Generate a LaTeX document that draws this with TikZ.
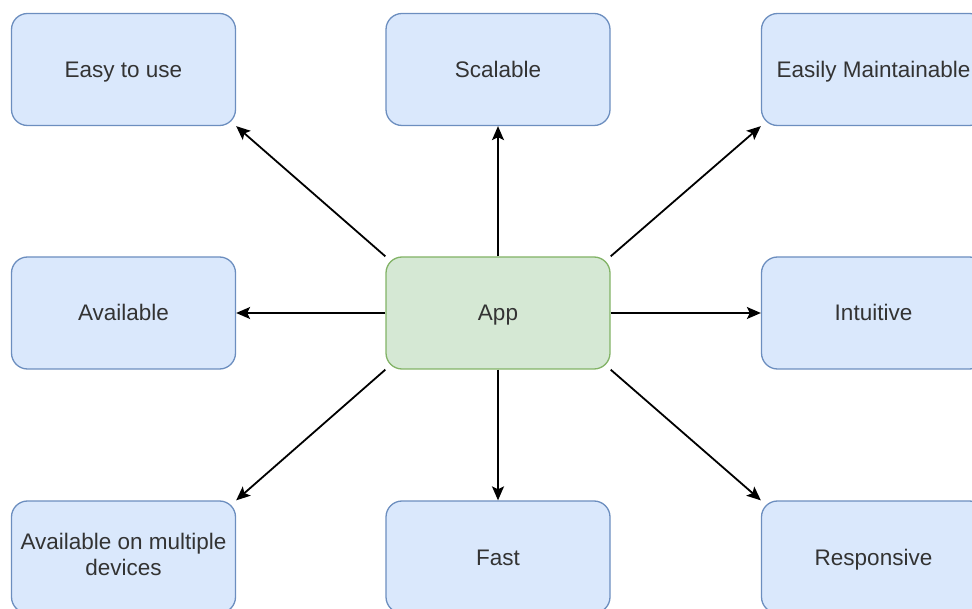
\documentclass[tikz,border=0pt]{standalone}
\usepackage{fontspec}
\setmainfont{Liberation Sans}
\usetikzlibrary{arrows.meta}
\definecolor{bluefill}{HTML}{DAE8FC}
\definecolor{blueline}{HTML}{6C8EBF}
\definecolor{greenfill}{HTML}{D5E8D4}
\definecolor{greenline}{HTML}{82B366}
\tikzset{
  card/.style={draw=blueline, fill=bluefill, line width=1.3pt, rounded corners=16pt,
    minimum width=224pt, minimum height=112pt, inner sep=0pt, align=center,
    font=\fontsize{22.5}{26}\selectfont, text=black!80,
    execute at begin node={\rule{0pt}{21pt}},
    execute at end node={\rule[-5pt]{0pt}{5pt}}},
  hub/.style={card, draw=greenline, fill=greenfill},
  link/.style={line width=1.8pt, -{Stealth[length=14pt,width=12pt,inset=3pt]}}
}
\begin{document}
\begin{tikzpicture}[x=1pt,y=-1pt]
  \useasboundingbox (0,0) rectangle (972,609);
  \clip (0,0) rectangle (972,609);
  % satellite boxes
  \node[card] (ease)  at (123.5,69.5)  {Easy to use};
  \node[card] (scale) at (498,69.5)    {Scalable};
  \node[card] (maint) at (873.5,69.5)  {Easily Maintainable};
  \node[card] (avail) at (123.5,313)   {Available};
  \node[card] (intu)  at (873.5,313)   {Intuitive};
  \node[card] (multi) at (123.5,557)   {Available on multiple\\devices};
  \node[card] (fast)  at (498,557)     {Fast};
  \node[card] (resp)  at (873.5,557)   {Responsive};
  % central box
  \node[hub] (app) at (498,313) {App};
  % connectors
  \draw[link] (app.north west) -- (ease.south east);
  \draw[link] (app.north) -- (scale.south);
  \draw[link] (app.north east) -- (maint.south west);
  \draw[link] (app.west) -- (avail.east);
  \draw[link] (app.east) -- (intu.west);
  \draw[link] (app.south west) -- (multi.north east);
  \draw[link] (app.south) -- (fast.north);
  \draw[link] (app.south east) -- (resp.north west);
\end{tikzpicture}
\end{document}
